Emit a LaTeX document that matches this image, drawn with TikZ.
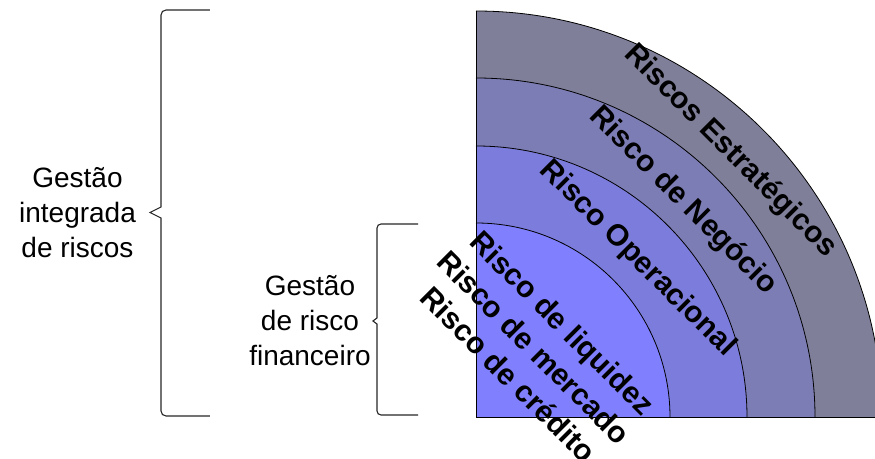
\documentclass[tikz,border=0pt]{standalone}
\usepackage{fontspec}
\setmainfont{Liberation Sans}
\definecolor{bandA}{RGB}{127,127,154}
\definecolor{bandB}{RGB}{125,125,182}
\definecolor{bandC}{RGB}{124,124,220}
\definecolor{bandD}{RGB}{128,128,255}
\tikzset{
  rotlbl/.style={rotate=-45, inner sep=0pt, font=\fontsize{30}{36}\selectfont\bfseries},
  sidelbl/.style={align=center, inner sep=0pt, font=\fontsize{28}{35}\selectfont},
  bracel/.style={line width=1.1pt, black!85},
  arcl/.style={line width=0.8pt, black}
}
\begin{document}
\begin{tikzpicture}[x=1pt,y=1pt]
\useasboundingbox (-476,-41) rectangle (399,417);
\clip (-476,-41) rectangle (399,417);
% bands
\fill[bandA] (0,0) -- (406,0) arc[start angle=0,end angle=90,radius=406] -- cycle;
\fill[bandB] (0,0) -- (339,0) arc[start angle=0,end angle=90,radius=339] -- cycle;
\fill[bandC] (0,0) -- (271,0) arc[start angle=0,end angle=90,radius=271] -- cycle;
\fill[bandD] (0,0) -- (194,0) arc[start angle=0,end angle=90,radius=194] -- cycle;
\draw[arcl] (406,0) arc[start angle=0,end angle=90,radius=406];
\draw[arcl] (339,0) arc[start angle=0,end angle=90,radius=339];
\draw[arcl] (271,0) arc[start angle=0,end angle=90,radius=271];
\draw[arcl] (194,0) arc[start angle=0,end angle=90,radius=194];
\draw[arcl] (0,406) -- (0,0) -- (406,0);
% rotated labels
\node[rotlbl] (estr) at (254,266) {Riscos Estratégicos};
\node[rotlbl] (neg) at (207,216) {Risco de Negócio};
\node[rotlbl] (oper) at (161.5,158) {Risco Operacional};
\node[rotlbl] (liq) at (84.5,92) {Risco de liquidez};
\node[rotlbl] (merc) at (58,69.5) {Risco de mercado};
\node[rotlbl] (cred) at (32.5,42.5) {Risco de crédito};
% side labels
\node[sidelbl] (gir) at (-398.5,204.5) {Gestão\\integrada\\de riscos};
\node[sidelbl] (grf) at (-166,96) {Gestão\\de risco\\financeiro};
% braces
\draw[bracel] (-266,407) -- (-310,407) arc[start angle=90,end angle=180,radius=5]
  -- (-315,210) -- (-326,204.5) -- (-315,199) -- (-315,6)
  arc[start angle=180,end angle=270,radius=5] -- (-266,1);
\draw[bracel] (-58,193) -- (-95,193) arc[start angle=90,end angle=180,radius=4]
  -- (-99,99) -- (-103,96) -- (-99,93) -- (-99,6)
  arc[start angle=180,end angle=270,radius=4] -- (-58,2);
\end{tikzpicture}
\end{document}
